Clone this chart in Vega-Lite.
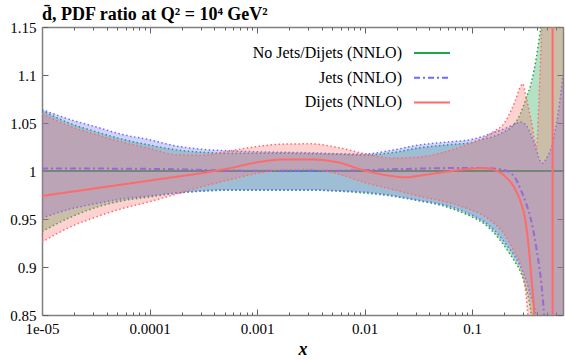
{
  "$schema": "https://vega.github.io/schema/vega-lite/v6.json",
  "width": 521,
  "height": 288,
  "autosize": {"type": "none"},
  "padding": {"left": 42, "top": 27, "right": 2, "bottom": 45},
  "background": "white",
  "title": {"text": "d\u0304, PDF ratio at Q² = 10⁴ GeV²", "anchor": "start", "frame": "group", "offset": -4, "font": "Liberation Serif", "fontSize": 18, "fontWeight": "bold", "color": "#000"},
  "config": {
    "view": {"stroke": null},
    "axis": {"labelFont": "Liberation Serif", "labelFontSize": 15, "labelColor": "#000", "domainColor": "#808080", "domainWidth": 1.5, "tickColor": "#606060", "tickWidth": 1, "grid": false}
  },
  "datasets": {
    "green": [
      {"x": 0.00001, "lo": 0.937, "hi": 1.063},
      {"x": 0.00001778, "lo": 0.951, "hi": 1.050},
      {"x": 0.00003162, "lo": 0.962, "hi": 1.041},
      {"x": 0.00005623, "lo": 0.969, "hi": 1.033},
      {"x": 0.0001, "lo": 0.973, "hi": 1.027},
      {"x": 0.0001778, "lo": 0.977, "hi": 1.022},
      {"x": 0.0003162, "lo": 0.979, "hi": 1.0195},
      {"x": 0.0005623, "lo": 0.980, "hi": 1.0185},
      {"x": 0.001, "lo": 0.980, "hi": 1.0185},
      {"x": 0.001778, "lo": 0.980, "hi": 1.0185},
      {"x": 0.003162, "lo": 0.980, "hi": 1.018},
      {"x": 0.005623, "lo": 0.979, "hi": 1.0175},
      {"x": 0.01, "lo": 0.977, "hi": 1.0165},
      {"x": 0.01778, "lo": 0.974, "hi": 1.019},
      {"x": 0.03162, "lo": 0.969, "hi": 1.024},
      {"x": 0.05623, "lo": 0.963, "hi": 1.027},
      {"x": 0.1, "lo": 0.952, "hi": 1.030},
      {"x": 0.1259, "lo": 0.946, "hi": 1.033},
      {"x": 0.1585, "lo": 0.936, "hi": 1.036},
      {"x": 0.1995, "lo": 0.922, "hi": 1.041},
      {"x": 0.2512, "lo": 0.905, "hi": 1.050},
      {"x": 0.2818, "lo": 0.895, "hi": 1.060},
      {"x": 0.3162, "lo": 0.878, "hi": 1.075},
      {"x": 0.3548, "lo": 0.850, "hi": 1.092},
      {"x": 0.3981, "lo": 0.78, "hi": 1.12},
      {"x": 0.4169, "lo": 0.74, "hi": 1.135},
      {"x": 0.4467, "lo": 0.68, "hi": 1.16},
      {"x": 0.5012, "lo": 0.6, "hi": 1.25},
      {"x": 0.5623, "lo": 0.6, "hi": 1.35},
      {"x": 0.631, "lo": 0.6, "hi": 1.4},
      {"x": 0.7, "lo": 0.6, "hi": 1.4}
    ],
    "blue": [
      {"x": 0.00001, "lo": 0.951, "hi": 1.064},
      {"x": 0.00001778, "lo": 0.960, "hi": 1.054},
      {"x": 0.00003162, "lo": 0.966, "hi": 1.046},
      {"x": 0.00005623, "lo": 0.971, "hi": 1.038},
      {"x": 0.0001, "lo": 0.974, "hi": 1.0325},
      {"x": 0.0001778, "lo": 0.977, "hi": 1.026},
      {"x": 0.0003162, "lo": 0.9795, "hi": 1.0225},
      {"x": 0.0005623, "lo": 0.9805, "hi": 1.021},
      {"x": 0.001, "lo": 0.9805, "hi": 1.020},
      {"x": 0.001778, "lo": 0.9805, "hi": 1.0195},
      {"x": 0.003162, "lo": 0.9805, "hi": 1.019},
      {"x": 0.005623, "lo": 0.9795, "hi": 1.018},
      {"x": 0.01, "lo": 0.978, "hi": 1.0177},
      {"x": 0.01778, "lo": 0.9745, "hi": 1.0215},
      {"x": 0.03162, "lo": 0.9695, "hi": 1.027},
      {"x": 0.05623, "lo": 0.9645, "hi": 1.030},
      {"x": 0.1, "lo": 0.954, "hi": 1.033},
      {"x": 0.1259, "lo": 0.948, "hi": 1.036},
      {"x": 0.1585, "lo": 0.939, "hi": 1.040},
      {"x": 0.1995, "lo": 0.926, "hi": 1.044},
      {"x": 0.2512, "lo": 0.910, "hi": 1.049},
      {"x": 0.2818, "lo": 0.900, "hi": 1.051},
      {"x": 0.3162, "lo": 0.887, "hi": 1.048},
      {"x": 0.3548, "lo": 0.868, "hi": 1.037},
      {"x": 0.3981, "lo": 0.848, "hi": 1.021},
      {"x": 0.4169, "lo": 0.835, "hi": 1.014},
      {"x": 0.4467, "lo": 0.80, "hi": 1.008},
      {"x": 0.5012, "lo": 0.72, "hi": 1.015},
      {"x": 0.5623, "lo": 0.6, "hi": 1.03},
      {"x": 0.631, "lo": 0.6, "hi": 1.06},
      {"x": 0.7, "lo": 0.6, "hi": 1.10}
    ],
    "red": [
      {"x": 0.00001, "lo": 0.926, "hi": 1.060},
      {"x": 0.00001778, "lo": 0.941, "hi": 1.047},
      {"x": 0.00003162, "lo": 0.952, "hi": 1.038},
      {"x": 0.00005623, "lo": 0.961, "hi": 1.030},
      {"x": 0.0001, "lo": 0.968, "hi": 1.0235},
      {"x": 0.0001778, "lo": 0.976, "hi": 1.017},
      {"x": 0.0003162, "lo": 0.984, "hi": 1.0165},
      {"x": 0.0005623, "lo": 0.991, "hi": 1.021},
      {"x": 0.001, "lo": 0.9975, "hi": 1.0255},
      {"x": 0.001778, "lo": 1.001, "hi": 1.028},
      {"x": 0.003162, "lo": 1.0015, "hi": 1.0283},
      {"x": 0.005623, "lo": 0.997, "hi": 1.0245},
      {"x": 0.01, "lo": 0.988, "hi": 1.018},
      {"x": 0.01778, "lo": 0.981, "hi": 1.0135},
      {"x": 0.03162, "lo": 0.974, "hi": 1.0145},
      {"x": 0.05623, "lo": 0.968, "hi": 1.020},
      {"x": 0.1, "lo": 0.959, "hi": 1.0295},
      {"x": 0.1259, "lo": 0.954, "hi": 1.034},
      {"x": 0.1585, "lo": 0.946, "hi": 1.041},
      {"x": 0.1995, "lo": 0.934, "hi": 1.050},
      {"x": 0.2512, "lo": 0.914, "hi": 1.073},
      {"x": 0.2818, "lo": 0.903, "hi": 1.088},
      {"x": 0.2951, "lo": 0.893, "hi": 1.091},
      {"x": 0.3162, "lo": 0.872, "hi": 1.078},
      {"x": 0.3548, "lo": 0.80, "hi": 1.052},
      {"x": 0.3981, "lo": 0.70, "hi": 1.025},
      {"x": 0.4169, "lo": 0.6, "hi": 1.07},
      {"x": 0.4467, "lo": 0.6, "hi": 1.16},
      {"x": 0.5012, "lo": 0.6, "hi": 1.4},
      {"x": 0.5623, "lo": 0.6, "hi": 1.4},
      {"x": 0.631, "lo": 0.6, "hi": 1.4},
      {"x": 0.7, "lo": 0.6, "hi": 1.4}
    ],
    "cen": [
      {"s": "No Jets/Dijets (NNLO)", "x": 0.00001, "c": 1.0},
      {"s": "No Jets/Dijets (NNLO)", "x": 0.7, "c": 1.0},
      {"s": "Jets (NNLO)", "x": 0.00001, "c": 1.0025},
      {"s": "Jets (NNLO)", "x": 0.00003162, "c": 1.0025},
      {"s": "Jets (NNLO)", "x": 0.0001, "c": 1.0022},
      {"s": "Jets (NNLO)", "x": 0.0001778, "c": 1.0018},
      {"s": "Jets (NNLO)", "x": 0.0003162, "c": 1.001},
      {"s": "Jets (NNLO)", "x": 0.001, "c": 1.0003},
      {"s": "Jets (NNLO)", "x": 0.003162, "c": 1.0002},
      {"s": "Jets (NNLO)", "x": 0.005623, "c": 1.0003},
      {"s": "Jets (NNLO)", "x": 0.01, "c": 1.0008},
      {"s": "Jets (NNLO)", "x": 0.01778, "c": 1.0018},
      {"s": "Jets (NNLO)", "x": 0.03162, "c": 1.0025},
      {"s": "Jets (NNLO)", "x": 0.05623, "c": 1.003},
      {"s": "Jets (NNLO)", "x": 0.1, "c": 1.003},
      {"s": "Jets (NNLO)", "x": 0.1259, "c": 1.003},
      {"s": "Jets (NNLO)", "x": 0.1585, "c": 1.0025},
      {"s": "Jets (NNLO)", "x": 0.1995, "c": 1.001},
      {"s": "Jets (NNLO)", "x": 0.2512, "c": 0.993},
      {"s": "Jets (NNLO)", "x": 0.2818, "c": 0.981},
      {"s": "Jets (NNLO)", "x": 0.3162, "c": 0.967},
      {"s": "Jets (NNLO)", "x": 0.3548, "c": 0.948},
      {"s": "Jets (NNLO)", "x": 0.3981, "c": 0.918},
      {"s": "Jets (NNLO)", "x": 0.4467, "c": 0.876},
      {"s": "Jets (NNLO)", "x": 0.5012, "c": 0.80},
      {"s": "Jets (NNLO)", "x": 0.5623, "c": 0.7},
      {"s": "Jets (NNLO)", "x": 0.7, "c": 0.5},
      {"s": "Dijets (NNLO)", "x": 0.00001, "c": 0.974},
      {"s": "Dijets (NNLO)", "x": 0.00001778, "c": 0.978},
      {"s": "Dijets (NNLO)", "x": 0.00003162, "c": 0.982},
      {"s": "Dijets (NNLO)", "x": 0.00005623, "c": 0.986},
      {"s": "Dijets (NNLO)", "x": 0.0001, "c": 0.990},
      {"s": "Dijets (NNLO)", "x": 0.0001778, "c": 0.994},
      {"s": "Dijets (NNLO)", "x": 0.0003162, "c": 0.998},
      {"s": "Dijets (NNLO)", "x": 0.0005623, "c": 1.003},
      {"s": "Dijets (NNLO)", "x": 0.001, "c": 1.009},
      {"s": "Dijets (NNLO)", "x": 0.001778, "c": 1.012},
      {"s": "Dijets (NNLO)", "x": 0.003162, "c": 1.012},
      {"s": "Dijets (NNLO)", "x": 0.005623, "c": 1.009},
      {"s": "Dijets (NNLO)", "x": 0.01, "c": 1.0005},
      {"s": "Dijets (NNLO)", "x": 0.01778, "c": 0.9948},
      {"s": "Dijets (NNLO)", "x": 0.02399, "c": 0.9934},
      {"s": "Dijets (NNLO)", "x": 0.03162, "c": 0.995},
      {"s": "Dijets (NNLO)", "x": 0.05623, "c": 0.999},
      {"s": "Dijets (NNLO)", "x": 0.1, "c": 1.0025},
      {"s": "Dijets (NNLO)", "x": 0.1259, "c": 1.003},
      {"s": "Dijets (NNLO)", "x": 0.1585, "c": 1.0015},
      {"s": "Dijets (NNLO)", "x": 0.1995, "c": 0.995},
      {"s": "Dijets (NNLO)", "x": 0.2512, "c": 0.981},
      {"s": "Dijets (NNLO)", "x": 0.2818, "c": 0.968},
      {"s": "Dijets (NNLO)", "x": 0.3162, "c": 0.945},
      {"s": "Dijets (NNLO)", "x": 0.3548, "c": 0.89},
      {"s": "Dijets (NNLO)", "x": 0.3802, "c": 0.84},
      {"s": "Dijets (NNLO)", "x": 0.3981, "c": 0.7},
      {"s": "Dijets (NNLO)", "x": 0.5600, "c": 0.5},
      {"s": "Dijets (NNLO)", "x": 0.5605, "c": 1.6},
      {"s": "Dijets (NNLO)", "x": 0.7, "c": 1.6}
    ]
  },
  "resolve": {"axis": {"x": "independent", "y": "independent"}},
  "layer": [
    {
      "encoding": {
        "x": {"field": "x", "type": "quantitative", "scale": {"type": "log", "domain": [0.00001, 0.7], "nice": false},
          "axis": {"orient": "bottom", "values": [0.00001, 0.0001, 0.001, 0.01, 0.1], "labelExpr": "datum.value < 0.00005 ? '1e-05' : format(datum.value, '~g')", "tickSize": -6, "labelPadding": 12, "labelFlush": false, "title": "x", "titleFont": "Liberation Serif", "titleFontSize": 18, "titleFontStyle": "italic", "titleFontWeight": "bold", "titleColor": "#000", "titlePadding": 4}}
      },
      "layer": [
        {"data": {"name": "green"}, "mark": {"type": "area", "color": "#1fa64c", "fillOpacity": 0.33, "clip": true, "interpolate": "monotone"},
          "encoding": {"y": {"field": "lo", "type": "quantitative", "scale": {"domain": [0.85, 1.15], "nice": false, "zero": false}, "axis": {"orient": "left", "format": "~g", "tickSize": -6, "labelPadding": 12, "title": null}}, "y2": {"field": "hi"}}},
        {"data": {"name": "green"}, "mark": {"type": "line", "color": "#1fa64c", "strokeDash": [1.5, 2.5], "strokeWidth": 1.5, "clip": true, "interpolate": "monotone"},
          "encoding": {"y": {"field": "hi", "type": "quantitative", "title": null}}},
        {"data": {"name": "green"}, "mark": {"type": "line", "color": "#1fa64c", "strokeDash": [1.5, 2.5], "strokeWidth": 1.5, "clip": true, "interpolate": "monotone"},
          "encoding": {"y": {"field": "lo", "type": "quantitative", "title": null}}},
        {"data": {"name": "cen"}, "transform": [{"filter": "datum.s === 'No Jets/Dijets (NNLO)'"}], "mark": {"type": "line", "strokeWidth": 2, "clip": true, "interpolate": "monotone"},
          "encoding": {
            "y": {"field": "c", "type": "quantitative", "title": null},
            "color": {"field": "s", "type": "nominal", "title": null, "scale": {"domain": ["No Jets/Dijets (NNLO)", "Jets (NNLO)", "Dijets (NNLO)"], "range": ["#1fa64c", "#6b6bff", "#ff6b6b"]},
              "legend": {"orient": "none", "legendX": 382, "legendY": 18, "padding": 0, "symbolType": "M-3,0H3", "symbolSize": 144, "symbolStrokeWidth": 2, "labelAlign": "right", "labelOffset": -38, "labelFont": "Liberation Serif", "labelFontSize": 16, "labelColor": "#000", "rowPadding": 8.7}},
            "strokeDash": {"field": "s", "type": "nominal", "title": null, "scale": {"domain": ["No Jets/Dijets (NNLO)", "Jets (NNLO)", "Dijets (NNLO)"], "range": [[1, 0], [6, 3, 2, 3], [1, 0]]},
              "legend": {"orient": "none", "legendX": 382, "legendY": 18, "padding": 0, "symbolType": "M-3,0H3", "symbolSize": 144, "symbolStrokeWidth": 2, "labelAlign": "right", "labelOffset": -38, "labelFont": "Liberation Serif", "labelFontSize": 16, "labelColor": "#000", "rowPadding": 8.7}}
          }},
        {"data": {"name": "blue"}, "mark": {"type": "area", "color": "#6b6bff", "fillOpacity": 0.3, "clip": true, "interpolate": "monotone"},
          "encoding": {"y": {"field": "lo", "type": "quantitative", "title": null}, "y2": {"field": "hi"}}},
        {"data": {"name": "blue"}, "mark": {"type": "line", "color": "#6b6bff", "strokeDash": [1.5, 2.5], "strokeWidth": 1.5, "clip": true, "interpolate": "monotone"},
          "encoding": {"y": {"field": "hi", "type": "quantitative", "title": null}}},
        {"data": {"name": "blue"}, "mark": {"type": "line", "color": "#6b6bff", "strokeDash": [1.5, 2.5], "strokeWidth": 1.5, "clip": true, "interpolate": "monotone"},
          "encoding": {"y": {"field": "lo", "type": "quantitative", "title": null}}},
        {"data": {"name": "cen"}, "transform": [{"filter": "datum.s === 'Jets (NNLO)'"}], "mark": {"type": "line", "strokeWidth": 2, "clip": true, "interpolate": "monotone"},
          "encoding": {"y": {"field": "c", "type": "quantitative", "title": null}, "color": {"field": "s", "type": "nominal", "title": null}, "strokeDash": {"field": "s", "type": "nominal", "title": null}}},
        {"data": {"name": "red"}, "mark": {"type": "area", "color": "#ff6b6b", "fillOpacity": 0.3, "clip": true, "interpolate": "monotone"},
          "encoding": {"y": {"field": "lo", "type": "quantitative", "title": null}, "y2": {"field": "hi"}}},
        {"data": {"name": "red"}, "mark": {"type": "line", "color": "#ff6b6b", "strokeDash": [1.5, 2.5], "strokeWidth": 1.5, "clip": true, "interpolate": "monotone"},
          "encoding": {"y": {"field": "hi", "type": "quantitative", "title": null}}},
        {"data": {"name": "red"}, "mark": {"type": "line", "color": "#ff6b6b", "strokeDash": [1.5, 2.5], "strokeWidth": 1.5, "clip": true, "interpolate": "monotone"},
          "encoding": {"y": {"field": "lo", "type": "quantitative", "title": null}}},
        {"data": {"name": "cen"}, "transform": [{"filter": "datum.s === 'Dijets (NNLO)'"}], "mark": {"type": "line", "strokeWidth": 2, "clip": true, "interpolate": "monotone"},
          "encoding": {"y": {"field": "c", "type": "quantitative", "title": null}, "color": {"field": "s", "type": "nominal", "title": null}, "strokeDash": {"field": "s", "type": "nominal", "title": null}}}
      ]
    },
    {
      "data": {"name": "cen"},
      "mark": {"type": "point", "opacity": 0, "clip": true},
      "encoding": {
        "x": {"field": "x", "type": "quantitative", "scale": {"type": "log", "domain": [0.00001, 0.7], "nice": false}, "axis": {"orient": "top", "values": [0.00001, 0.0001, 0.001, 0.01, 0.1], "labels": false, "tickSize": -6, "title": null}},
        "y": {"field": "c", "type": "quantitative", "scale": {"domain": [0.85, 1.15], "nice": false, "zero": false}, "axis": {"orient": "right", "labels": false, "tickSize": -6, "title": null}}
      }
    },
    {
      "data": {"name": "cen"},
      "mark": {"type": "point", "opacity": 0, "clip": true},
      "encoding": {
        "x": {"field": "x", "type": "quantitative", "scale": {"type": "log", "domain": [0.00001, 0.7], "nice": false}, "axis": {"orient": "bottom", "values": [0.00002, 0.00003, 0.00004, 0.00005, 0.00006, 0.00007, 0.00008, 0.00009, 0.0002, 0.0003, 0.0004, 0.0005, 0.0006, 0.0007, 0.0008, 0.0009, 0.002, 0.003, 0.004, 0.005, 0.006, 0.007, 0.008, 0.009, 0.02, 0.03, 0.04, 0.05, 0.06, 0.07, 0.08, 0.09, 0.2, 0.3, 0.4, 0.5, 0.6], "labels": false, "domain": false, "tickSize": -3, "title": null}},
        "y": {"field": "c", "type": "quantitative", "scale": {"domain": [0.85, 1.15], "nice": false, "zero": false}, "axis": null}
      }
    },
    {
      "data": {"name": "cen"},
      "mark": {"type": "point", "opacity": 0, "clip": true},
      "encoding": {
        "x": {"field": "x", "type": "quantitative", "scale": {"type": "log", "domain": [0.00001, 0.7], "nice": false}, "axis": {"orient": "top", "values": [0.00002, 0.00003, 0.00004, 0.00005, 0.00006, 0.00007, 0.00008, 0.00009, 0.0002, 0.0003, 0.0004, 0.0005, 0.0006, 0.0007, 0.0008, 0.0009, 0.002, 0.003, 0.004, 0.005, 0.006, 0.007, 0.008, 0.009, 0.02, 0.03, 0.04, 0.05, 0.06, 0.07, 0.08, 0.09, 0.2, 0.3, 0.4, 0.5, 0.6], "labels": false, "domain": false, "tickSize": -3, "title": null}},
        "y": {"field": "c", "type": "quantitative", "scale": {"domain": [0.85, 1.15], "nice": false, "zero": false}, "axis": null}
      }
    }
  ]
}
